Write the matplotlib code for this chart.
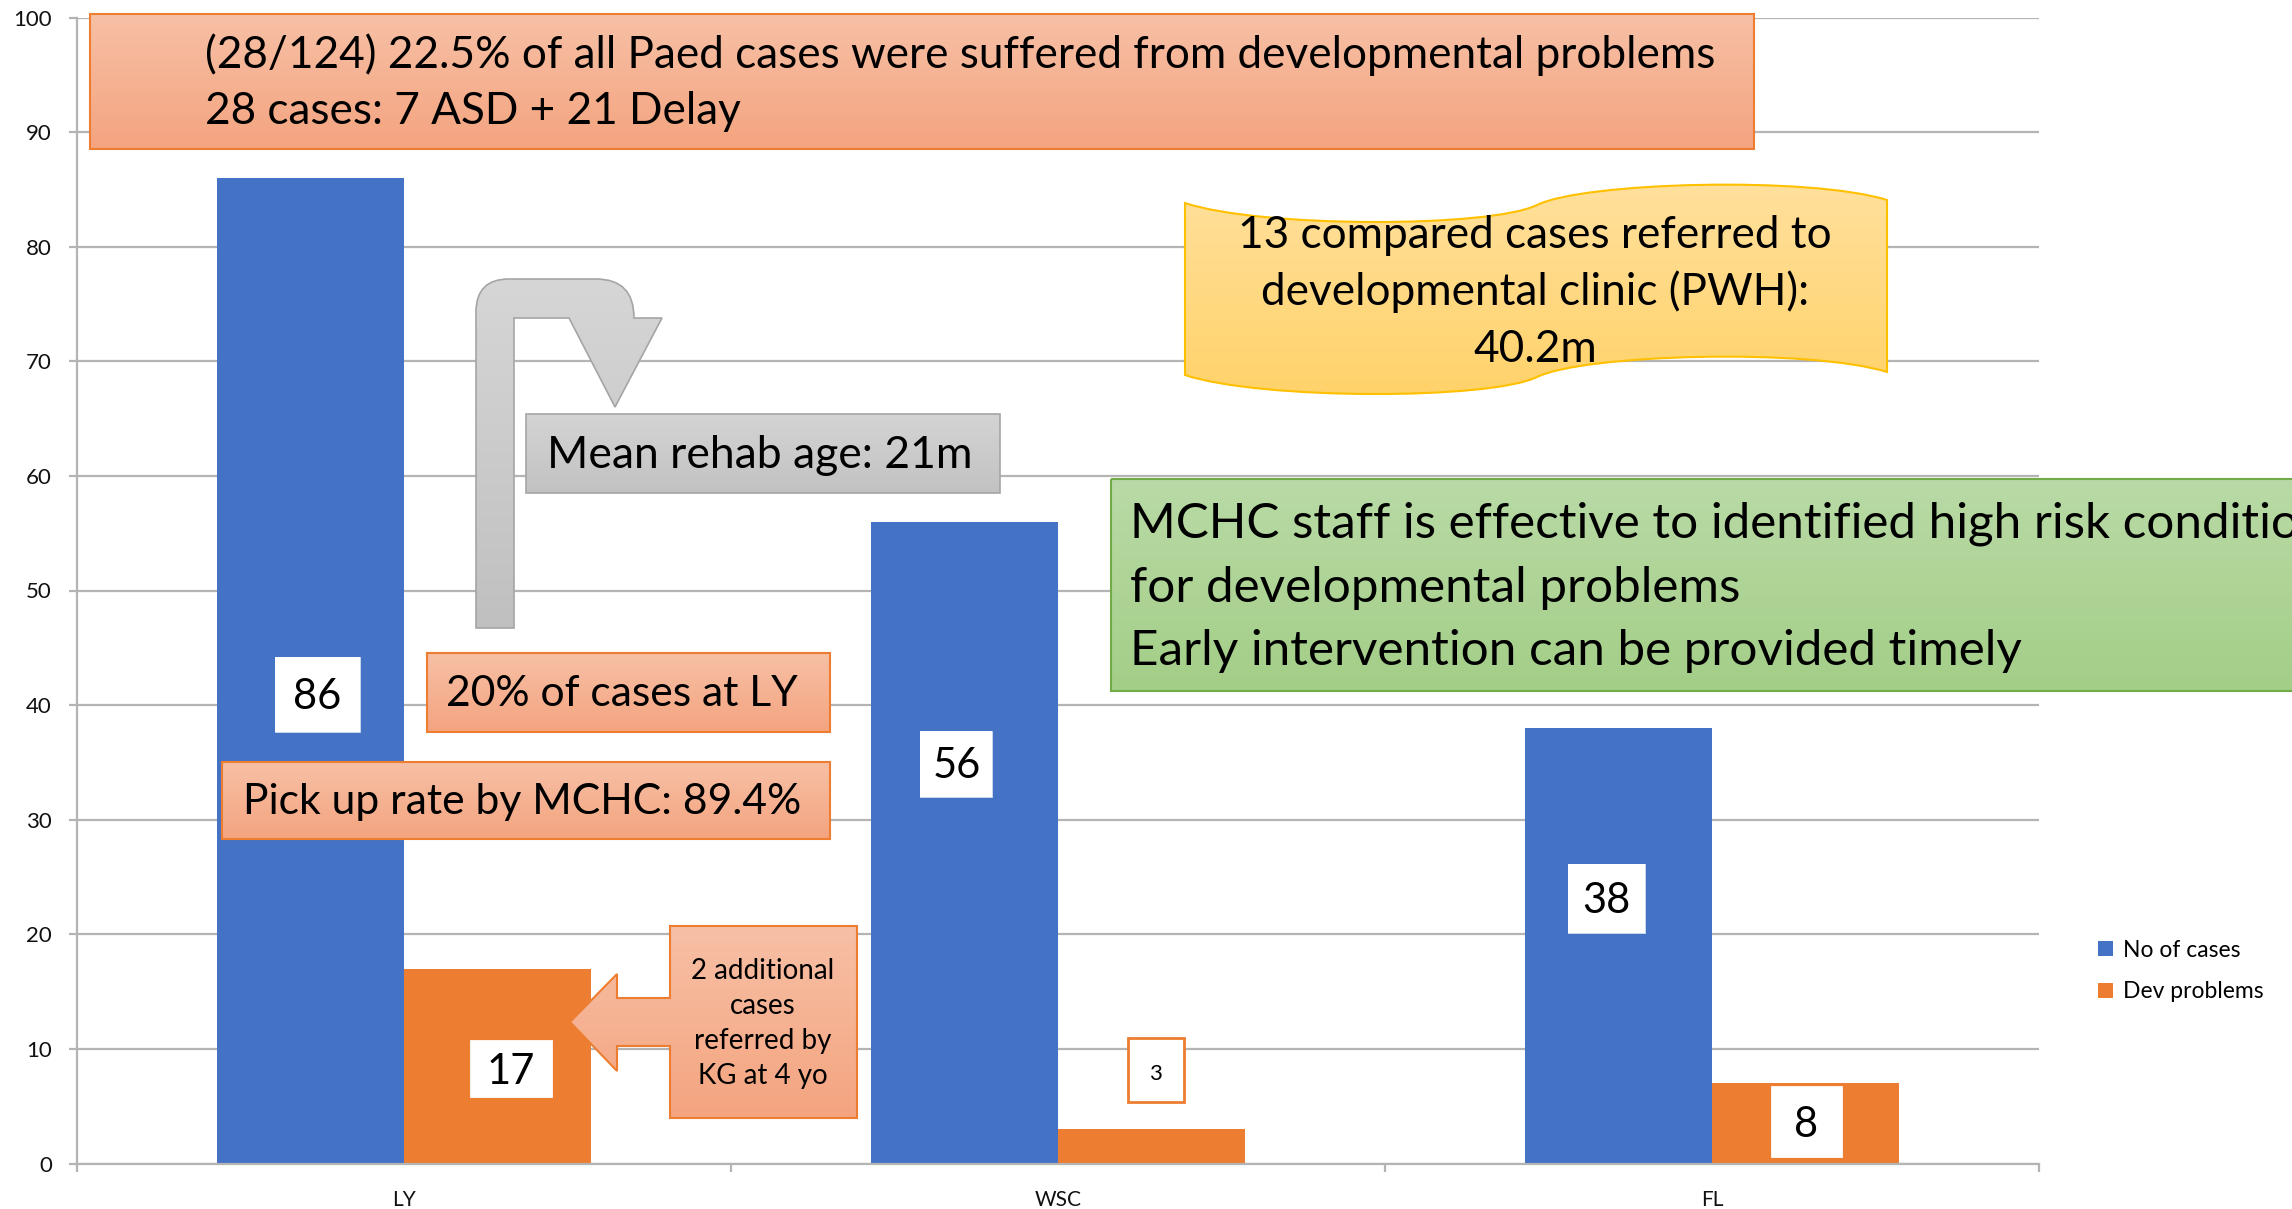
import numpy as np
import matplotlib
matplotlib.use('Agg')
import matplotlib.pyplot as plt
from matplotlib.path import Path
from matplotlib.patches import PathPatch
from matplotlib.colors import LinearSegmentedColormap

plt.rcParams['font.family'] = ['Lato', 'DejaVu Sans']

W, H = 2292, 1209

# data
sites = ['LY', 'WSC', 'FL']
n_cases = [86, 56, 38]
dev_problems = [17, 3, 7]
case_labels = ['86', '56', '38']
dev_labels = ['17', '3', '8']
yticks = list(range(0, 101, 10))

# where the (moved) data labels sit: height in data units, x nudge in pixels
case_lab_y = [40.9, 34.9, 23.1]
dev_lab_y = [8.3, 8.2, 3.7]
case_lab_dx = [7, -8, -12]
dev_lab_dx = [13, 4, 1]

fig = plt.figure(figsize=(W / 100, H / 100), dpi=100)
ax = fig.add_axes([77 / W, 45.5 / H, 1962 / W, 1146 / H])

x = np.arange(len(sites))
bw = 0.286
ax.bar(x - bw / 2, n_cases, bw, color='#4472c4', label='No of cases', zorder=2)
ax.bar(x + bw / 2, dev_problems, bw, color='#ed7d31', label='Dev problems', zorder=2)

ax.set_xlim(-0.5, 2.5)
ax.set_ylim(0, 100)
ax.set_yticks(yticks)
ax.yaxis.grid(True, color='#b4b4b4', lw=1.6)
ax.set_axisbelow(True)
for s in ['top', 'right']:
    ax.spines[s].set_visible(False)
for s in ['left', 'bottom']:
    ax.spines[s].set_color('#b4b4b4')
    ax.spines[s].set_linewidth(1.6)
ax.set_xticks(x)
ax.set_xticklabels(sites)
ax.set_xticks([-0.5, 0.5, 1.5, 2.5], minor=True)
ax.tick_params(axis='x', which='major', length=0, pad=19, labelsize=15, labelcolor='#111111')
ax.tick_params(axis='x', which='minor', length=6, color='#b4b4b4', width=1.6)
ax.tick_params(axis='y', length=6, color='#b4b4b4', width=1.6, pad=12, labelsize=16, labelcolor='#111111')

ax.legend(loc='center left', bbox_to_anchor=(2098 / W, 1 - 971 / H), bbox_transform=fig.transFigure,
          frameon=False, fontsize=16.5, handlelength=0.65, handleheight=0.65, handletextpad=0.45,
          labelspacing=0.9, borderpad=0, borderaxespad=0)

# overlay in pixel coords (y down) for the callouts
ov = fig.add_axes([0, 0, 1, 1], zorder=10)
ov.set_axis_off()


def shape(verts, codes, c_top, c_bot, ec, lw=1.5):
    path = Path(verts, codes)
    patch = PathPatch(path, fc='none', ec=ec, lw=lw, zorder=3)
    ov.add_patch(patch)
    e = path.get_extents()
    cmap = LinearSegmentedColormap.from_list('g', [c_top, c_bot])
    im = ov.imshow(np.linspace(0, 1, 200).reshape(-1, 1), cmap=cmap, aspect='auto',
                   extent=(e.x0, e.x1, e.y1, e.y0), zorder=2, interpolation='bilinear')
    im.set_clip_path(patch)


def box(x0, y0, x1, y1, c_top, c_bot, ec, lw=1.5):
    verts = [(x0, y0), (x1, y0), (x1, y1), (x0, y1), (x0, y0)]
    codes = [Path.MOVETO] + [Path.LINETO] * 3 + [Path.CLOSEPOLY]
    shape(verts, codes, c_top, c_bot, ec, lw)


def data_px(xd, yd):
    dx, dy = ax.transData.transform((xd, yd))
    return dx, H - dy


OR1, OR2, ORE = '#f7c0a6', '#f4a47f', '#ed7d31'

# top summary box
box(90, 14, 1754, 149, OR1, OR2, ORE)
ov.text(205, 55, '(28/124) 22.5% of all Paed cases were suffered from developmental problems',
        fontsize=31.8, va='center', ha='left', zorder=4)
ov.text(205, 112, '28 cases: 7 ASD + 21 Delay', fontsize=31.8, va='center', ha='left', zorder=4)

# grey bent arrow
v = [(476, 628), (476, 312), (476, 279), (509, 279), (596, 279), (634, 279), (634, 318),
     (662, 318), (615, 407), (569, 318), (514, 318), (514, 628), (476, 628)]
c = [Path.MOVETO, Path.LINETO, Path.CURVE3, Path.CURVE3, Path.LINETO, Path.CURVE3, Path.CURVE3,
     Path.LINETO, Path.LINETO, Path.LINETO, Path.LINETO, Path.LINETO, Path.CLOSEPOLY]
shape(v, c, '#d6d6d6', '#c0c0c0', '#a5a5a5', 1.2)

box(526, 414, 1000, 493, '#d4d4d4', '#c2c2c2', '#a5a5a5', 1.2)
ov.text(547, 456, 'Mean rehab age: 21m', fontsize=32, va='center', ha='left', zorder=4)

box(427, 653, 830, 732, OR1, OR2, ORE)
ov.text(446, 694, '20% of cases at LY', fontsize=30.7, va='center', ha='left', zorder=4)

box(222, 762, 830, 839, OR1, OR2, ORE)
ov.text(243, 802, 'Pick up rate by MCHC: 89.4%', fontsize=30.7, va='center', ha='left', zorder=4)

# left-pointing callout
v = [(857, 926), (670, 926), (670, 998), (617, 998), (617, 974), (570, 1022), (617, 1071),
     (617, 1046), (670, 1046), (670, 1118), (857, 1118), (857, 926)]
c = [Path.MOVETO] + [Path.LINETO] * 10 + [Path.CLOSEPOLY]
shape(v, c, OR1, OR2, ORE)
for i, line in enumerate(['2 additional', 'cases', 'referred by', 'KG at 4 yo']):
    ov.text(763, 971 + 35 * i, line, fontsize=20, va='center', ha='center', zorder=4)

# yellow wave
top = [(1185, 203), (1260, 228), (1490, 228), (1537, 205), (1584, 182), (1810, 176), (1887, 200)]
dy = 172
v = top + [(1887, 200 + dy)] + [(px, py + dy) for px, py in reversed(top[:-1])] + [(1185, 203)]
c = ([Path.MOVETO] + [Path.CURVE4] * 6 + [Path.LINETO] + [Path.CURVE4] * 6 + [Path.CLOSEPOLY])
shape(v, c, '#ffe09c', '#ffd26a', '#ffc000', 1.5)
for i, line in enumerate(['13 compared cases referred to', 'developmental clinic (PWH):', '40.2m']):
    ov.text(1535, 235 + 57 * i, line, fontsize=31.8, va='center', ha='center', zorder=4)

# green message box (runs off the right edge)
box(1111, 479, 2320, 691, '#b9daa6', '#a3ce87', '#70ad47')
for i, line in enumerate(['MCHC staff is effective to identified high risk condition',
                          'for developmental problems',
                          'Early intervention can be provided timely']):
    ov.text(1130, 524 + 63.5 * i, line, fontsize=35.6, va='center', ha='left', zorder=4)

# data labels in white boxes
case_box = [(85, 75), (72, 66), (77, 69)]
dev_box = [(80, 55), (56, 64), (69, 69)]
for i in range(len(sites)):
    cx, cy = data_px(x[i] - bw / 2, case_lab_y[i])
    cx += case_lab_dx[i]
    w, h = case_box[i]
    box(cx - w / 2, cy - h / 2, cx + w / 2, cy + h / 2, 'white', 'white', 'white', 0.5)
    ov.text(cx, cy + 2, case_labels[i], fontsize=30, va='center', ha='center', zorder=4)

    cx, cy = data_px(x[i] + bw / 2, dev_lab_y[i])
    cx += dev_lab_dx[i]
    w, h = dev_box[i]
    ec = ORE if dev_labels[i] == '3' else 'white'
    box(cx - w / 2, cy - h / 2, cx + w / 2, cy + h / 2, 'white', 'white', ec, 2)
    fs = 16 if dev_labels[i] == '3' else 30
    ov.text(cx, cy + 4, dev_labels[i], fontsize=fs, va='center', ha='center', zorder=4)

ov.set_xlim(0, W)
ov.set_ylim(H, 0)

fig.savefig('out.png', dpi=100)
